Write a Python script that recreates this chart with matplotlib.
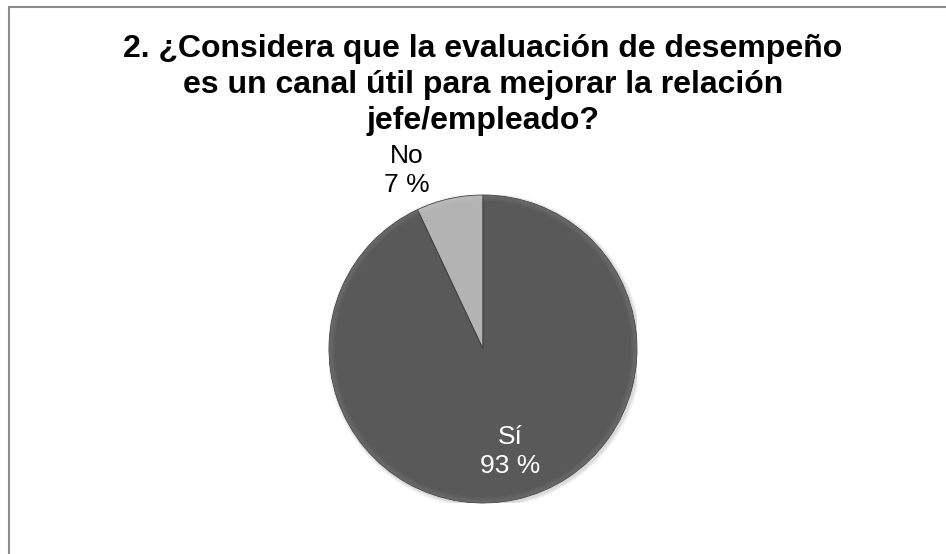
import numpy as np
import matplotlib.pyplot as plt
from matplotlib.patches import Wedge, Rectangle, Circle

plt.rcParams["font.family"] = ["Liberation Sans", "DejaVu Sans"]

labels = ["No", "Sí"]
shares = [7, 93]
colors = ["#b3b3b3", "#595959"]
text_colors = ["black", "white"]

title = ("2. ¿Considera que la evaluación de desempeño\n"
         "es un canal útil para mejorar la relación\n"
         "jefe/empleado?")

fig = plt.figure(figsize=(9.46, 5.54), dpi=100)

# outer chart frame (only top/left edges fall inside the canvas)
fig.patches.append(Rectangle((8.5 / 946, -0.1), 1.2, (554 - 7.5) / 554 + 0.1,
                             transform=fig.transFigure, fill=False,
                             edgecolor="#8c8c8c", linewidth=1.5))

fig.text(483 / 946, 1 - 85 / 554, title, ha="center", va="center",
         fontsize=23, fontweight="bold", linespacing=1.24)

ax = fig.add_axes([329 / 946, 51 / 554, 308 / 946, 308 / 554])

# faint drop shadow behind the pie
for k, a in enumerate([0.06, 0.05, 0.04]):
    ax.add_patch(Circle((0.01, -0.01), 1.0 + 0.008 * (k + 1),
                        facecolor="black", alpha=a, edgecolor="none", zorder=0))

wedges, _ = ax.pie(shares, colors=colors, startangle=90, counterclock=True,
                   wedgeprops=dict(edgecolor="#3a3a3a", linewidth=0.6))
ax.set_xlim(-1, 1)
ax.set_ylim(-1, 1)
ax.set_aspect("equal")
ax.axis("off")

# soft bevel: light rim on each slice
for w, c in zip(wedges, colors):
    for k, a in enumerate([0.10, 0.07, 0.04]):
        ax.add_patch(Wedge((0, 0), 1 - 0.012 * k, w.theta1, w.theta2,
                           width=0.012, facecolor="white", alpha=a,
                           edgecolor="none"))

# labels: "No" outside, "Sí" inside the slice
label_pos = [(113, 1.26), (-75, 0.69)]
for lab, pct, tc, (ang, r) in zip(labels, shares, text_colors, label_pos):
    x = r * np.cos(np.radians(ang))
    y = r * np.sin(np.radians(ang))
    ax.text(x, y, f"{lab}\n{pct} %", ha="center", va="center",
            fontsize=19, color=tc, linespacing=1.28, clip_on=False)

fig.savefig("out.png", dpi=100)
